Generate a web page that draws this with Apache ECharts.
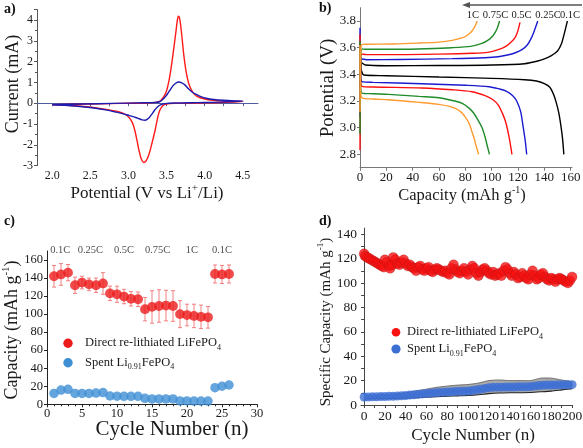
<!DOCTYPE html>
<html><head><meta charset="utf-8">
<script src="https://cdn.jsdelivr.net/npm/echarts@6/dist/echarts.min.js"></script>
<style>html,body{margin:0;padding:0;background:#fff}#c{width:583px;height:448px}</style>
</head><body><div id="c"></div>
<script>
// ---------- Panel a: CV loops (forward then reverse scan) ----------
const cvRed = [[2.0,-0.07],[2.3,-0.05],[2.6,-0.03],[2.9,-0.01],[3.2,0.01],[3.35,0.04],[3.42,0.12],[3.47,0.35],[3.5,0.6],[3.53,1.05],[3.56,1.7],[3.59,2.5],[3.62,3.35],[3.64,3.95],[3.655,4.18],[3.67,4.1],[3.69,3.6],[3.71,2.9],[3.73,2.2],[3.76,1.45],[3.8,0.85],[3.85,0.5],[3.9,0.33],[4.0,0.2],[4.1,0.14],[4.3,0.1],[4.5,0.08],
  [4.5,0.05],[4.2,0.03],[3.9,0.01],[3.6,-0.01],[3.5,-0.04],[3.45,-0.12],[3.41,-0.35],[3.38,-0.75],[3.35,-1.3],[3.31,-1.9],[3.27,-2.45],[3.23,-2.78],[3.2,-2.85],[3.17,-2.7],[3.14,-2.3],[3.11,-1.75],[3.08,-1.25],[3.05,-0.92],[3.01,-0.7],[2.95,-0.52],[2.88,-0.42],[2.75,-0.33],[2.6,-0.24],[2.45,-0.17],[2.25,-0.11],[2.0,-0.08]];
const cvBlue = [[2.0,-0.07],[2.4,-0.04],[2.8,-0.01],[3.2,0.02],[3.35,0.04],[3.41,0.07],[3.45,0.18],[3.5,0.38],[3.54,0.6],[3.58,0.82],[3.62,0.96],[3.66,1.02],[3.7,0.98],[3.74,0.88],[3.78,0.72],[3.83,0.55],[3.89,0.42],[3.95,0.32],[4.02,0.24],[4.12,0.18],[4.24,0.14],[4.4,0.11],[4.5,0.1],
  [4.5,0.08],[4.2,0.05],[3.9,0.03],[3.6,0.01],[3.48,-0.02],[3.42,-0.08],[3.38,-0.18],[3.34,-0.35],[3.3,-0.56],[3.26,-0.74],[3.22,-0.82],[3.18,-0.8],[3.12,-0.72],[3.05,-0.63],[3.0,-0.58],[2.92,-0.5],[2.84,-0.43],[2.7,-0.32],[2.57,-0.24],[2.4,-0.17],[2.2,-0.11],[2.0,-0.08]];
const aXLabels = [2.0,2.5,3.0,3.5,4.0,4.5];
const aXTicks = [2.0,2.25,2.5,2.75,3.0,3.25,3.5,3.75,4.0,4.25,4.5];

// ---------- Panel b: charge / discharge curves ----------
const bChg01  = [[0,3.3],[0.5,3.44],[1.5,3.485],[4,3.47],[20,3.465],[60,3.466],[100,3.47],[125,3.48],[135,3.5],[141,3.52],[146,3.545],[150,3.575],[153,3.63],[155,3.7],[156.5,3.76],[157.5,3.8]];
const bDis01  = [[0,3.47],[1,3.43],[3,3.395],[20,3.39],[60,3.38],[100,3.37],[125,3.36],[134,3.35],[140,3.33],[144,3.305],[147,3.25],[149,3.19],[151,3.11],[152.5,3.02],[153.8,2.92],[154.8,2.8]];
const bChg025 = [[0,3.08],[0.5,3.45],[1.5,3.515],[5,3.51],[30,3.512],[70,3.518],[95,3.525],[105,3.532],[112,3.545],[118,3.562],[123,3.585],[127,3.62],[130,3.67],[132.5,3.73],[135,3.8]];
const bDis025 = [[0,3.75],[0.4,3.4],[1.5,3.345],[10,3.34],[47,3.33],[80,3.318],[98,3.307],[106,3.29],[111,3.275],[116,3.24],[119,3.2],[122,3.12],[124,3.0],[125.5,2.9],[126.6,2.8]];
const bChg05  = [[0,2.83],[0.5,3.45],[1.5,3.552],[5,3.548],[30,3.548],[60,3.552],[85,3.558],[97,3.565],[105,3.585],[111,3.612],[115,3.645],[118,3.68],[120,3.73],[121.5,3.79]];
const bDis05  = [[0,3.7],[0.4,3.38],[1.5,3.31],[10,3.305],[47,3.298],[70,3.285],[85,3.27],[95,3.24],[101,3.21],[105,3.17],[108.5,3.1],[111,3.03],[113.4,2.92],[115.4,2.8]];
const bChg075 = [[0,2.95],[0.5,3.45],[1.5,3.59],[5,3.588],[30,3.588],[50,3.592],[70,3.6],[85,3.612],[92,3.63],[97,3.655],[101,3.69],[104,3.74],[106,3.8]];
const bDis075 = [[0,3.65],[0.4,3.33],[1.5,3.26],[10,3.255],[21.6,3.25],[45,3.235],[60,3.225],[72,3.2],[78,3.18],[83,3.145],[86.3,3.11],[90,3.05],[92.7,3.0],[95,2.93],[96.5,2.87],[98.3,2.8]];
const bChg1   = [[0,3.12],[0.5,3.5],[1.5,3.625],[5,3.626],[25,3.628],[45,3.635],[60,3.642],[70,3.655],[78,3.675],[83,3.705],[86.5,3.745],[89,3.8]];
const bDis1   = [[0,3.62],[0.4,3.3],[1.5,3.225],[10,3.215],[21.6,3.21],[45,3.19],[59.7,3.175],[68,3.16],[72.4,3.145],[77,3.115],[80,3.08],[83,3.03],[85,2.97],[87,2.91],[88,2.87],[90.1,2.8]];
const bRates = ['1C','0.75C','0.5C','0.25C','0.1C'];
const bYLabels = [2.8,3.0,3.2,3.4,3.6,3.8];

// ---------- Panel c: rate capability ----------
const cCycles = [1,2,3,4,5,6,7,8,9,10,11,12,13,14,15,16,17,18,19,20,21,22,23,24,25,26];
const cRed  = [142,144,146,132,135,133,132,134,123,122,119.5,117,116.5,105.5,108,109,109.5,109,100,99,98,97,96.5,144.5,144,144.5];
const cErr  = [12,12,9,9,7,7,8,12,8,9,8,8,8,13,18,18,17,17,15,12,13,13,12,10,10,10];
const cBlue = [12,15.8,16.6,12,12,12,12.5,13,9.2,9,8.8,8.8,8.8,6.6,5.9,5.9,5.9,5.9,3.7,3.7,3.6,3.6,3.6,18.4,20,21.4];
const cDividers = [3.5,8.5,13.5,18.5,23.5];
const cRateLabels = ['0.1C','0.25C','0.5C','0.75C','1C','0.1C'];
const cRateCenters = [1.9,6.2,11,15.8,20.7,25];

// ---------- Panel d: long cycling ----------
const dRed = [[0,124],[1,122],[3,121],[5,120],[7,119],[9,118],[11,117],[13,116],[15,115],[17,114],[19,113],[20,119],[22,117],[24,114],[25,112],[27,115],[28,121],[30,119],[32,116],[34,115],[36,117],[38,119],[40,116],[42,114],[44,115],[46,113],[48,112],[50,110],[52,113],[54,114],[56,111],[58,110],[60,112],[62,113],[64,110],[66,109],[68,111],[70,112],[72,111],[74,110],[76,109],[78,110],[80,108],[82,107],[84,112],[86,115],[88,111],[90,109],[92,108],[94,110],[96,112],[98,109],[100,107],[102,111],[104,114],[106,112],[108,108],[110,106],[112,109],[114,111],[116,112],[118,110],[120,108],[122,107],[124,109],[126,106],[128,107],[130,108],[132,106],[134,110],[136,113],[138,111],[140,108],[142,106],[144,109],[146,107],[148,104],[150,105],[152,108],[154,106],[156,104],[158,103],[160,107],[162,110],[164,106],[166,103],[168,104],[170,107],[172,108],[174,105],[176,103],[178,102],[180,104],[182,103],[184,101],[186,103],[188,104],[190,103],[192,102],[194,101],[196,100],[198,102],[200,105]];
const dBlue = [[0,6.6],[4,6.6],[8,6.7],[12,6.8],[16,6.9],[20,7.0],[24,7.1],[28,7.2],[32,7.4],[36,7.6],[40,7.8],[44,8.1],[48,8.4],[52,8.8],[56,9.1],[60,9.4],[64,9.7],[68,10.0],[72,10.2],[76,10.5],[80,10.7],[84,10.9],[88,11.0],[92,11.2],[96,11.3],[100,11.5],[104,11.8],[108,12.4],[112,13.0],[116,13.6],[120,14.2],[124,14.5],[128,14.6],[132,14.6],[136,14.7],[140,14.8],[144,14.8],[148,14.9],[152,15.0],[156,15.0],[160,15.1],[164,15.6],[168,16.0],[172,16.2],[176,16.3],[180,16.3],[184,16.4],[188,16.5],[192,16.5],[196,16.6],[200,16.7]];
const dBandCyc = [0,10,20,30,40,50,60,70,80,90,100,110,120,130,140,150,160,170,180,190,200];
const dBandLo  = [4.9,5.1,5.2,5.4,5.6,5.9,6.3,6.8,7.2,7.5,7.8,8.4,9.3,9.8,10.0,10.1,10.3,10.8,11.4,12.4,13.4];
const dBandHi  = [7.8,8.1,8.6,9.2,10.0,11.5,13.0,14.5,15.5,16.3,16.8,18.0,20.0,20.5,20.0,20.0,20.0,22.0,22.0,20.5,19.0];

// ---------- build ----------
const SERIF = '"Liberation Serif", "Times New Roman", serif';
const TXT = '#1a1a1a';
function lab(size, margin){ return {fontFamily:SERIF, fontSize:size, color:TXT, margin:margin}; }
function range(a,b,s){const r=[];for(let v=a;v<=b+1e-9;v+=s)r.push(+v.toFixed(4));return r;}

const chart = echarts.init(document.getElementById('c'), null, {renderer:'canvas'});

const grids = [
  {left:37, top:9.6, width:221, height:156, outerBoundsMode:'none'},
  {left:360, top:7.7, width:212, height:160, outerBoundsMode:'none'},
  {left:47, top:251, width:210, height:153.3, outerBoundsMode:'none'},
  {left:361, top:228.1, width:211.6, height:176.9, outerBoundsMode:'none'}
];

const axLine = c => ({show:true, lineStyle:{color:c, width:1}});
const xAxes = [
  {gridIndex:0, type:'value', min:1.8, max:4.7, axisLine:axLine('#4f5c9e'),
   axisTick:{customValues:aXTicks, length:3, lineStyle:{color:'#4f5c9e'}},
   axisLabel:Object.assign(lab(12,4),{customValues:aXLabels, formatter:v=>v.toFixed(1)}), splitLine:{show:false}},
  {gridIndex:1, type:'value', min:0, max:161, axisLine:axLine('#777'),
   axisTick:{customValues:range(0,160,20), length:3, lineStyle:{color:'#777'}},
   axisLabel:Object.assign(lab(13,3),{customValues:range(0,160,20)}), splitLine:{show:false}},
  {gridIndex:2, type:'value', min:0, max:30, interval:5, axisLine:axLine('#222'),
   axisTick:{length:3, lineStyle:{color:'#222'}}, minorTick:{show:true, splitNumber:5, length:2, lineStyle:{color:'#222'}},
   axisLabel:lab(12.5,3), splitLine:{show:false}},
  {gridIndex:3, type:'value', min:-3, max:200.5, axisLine:axLine('#444'),
   axisTick:{customValues:range(0,200,10), length:3, lineStyle:{color:'#444'}},
   axisLabel:Object.assign(lab(13.5,4),{customValues:range(0,200,20)}), splitLine:{show:false}}
];
const yAxes = [
  {gridIndex:0, type:'value', min:-3, max:4.5, interval:1, axisLine:axLine('#555'),
   axisTick:{length:3, lineStyle:{color:'#555'}}, minorTick:{show:true, splitNumber:2, length:2, lineStyle:{color:'#555'}},
   axisLabel:Object.assign(lab(12,4),{formatter:v=>Number.isInteger(v)?String(v):''}), splitLine:{show:false}},
  {gridIndex:1, type:'value', min:2.7, max:3.9, axisLine:axLine('#777'),
   axisTick:{customValues:bYLabels, length:3, lineStyle:{color:'#777'}},
   axisLabel:Object.assign(lab(13,4),{customValues:bYLabels, formatter:v=>v.toFixed(1)}), splitLine:{show:false}},
  {gridIndex:2, type:'value', min:0, max:170, axisLine:axLine('#222'),
   axisTick:{customValues:range(0,160,20), length:3, lineStyle:{color:'#222'}},
   axisLabel:Object.assign(lab(12.5,4),{customValues:range(0,160,20)}), splitLine:{show:false}},
  {gridIndex:3, type:'value', min:0, max:145, axisLine:axLine('#444'),
   axisTick:{customValues:range(0,140,10), length:3, lineStyle:{color:'#444'}},
   axisLabel:Object.assign(lab(13.5,4),{customValues:range(0,140,20)}), splitLine:{show:false}}
];

const series = [];
// a
series.push({type:'line', xAxisIndex:0, yAxisIndex:0, data:cvRed, showSymbol:false, smooth:0.3, lineStyle:{color:'#ff1a1a', width:1.4}, z:3});
series.push({type:'line', xAxisIndex:0, yAxisIndex:0, data:cvBlue, showSymbol:false, smooth:0.3, lineStyle:{color:'#1c1cb0', width:1.4}, z:4});
// b
const bSets = [[bChg01,bDis01,'#000000'],[bChg025,bDis025,'#1a1ad0'],[bChg05,bDis05,'#ff1010'],[bChg075,bDis075,'#1e8c2a'],[bChg1,bDis1,'#ff9a2e']];
bSets.forEach(s=>{
  [s[0],s[1]].forEach(d=>series.push({type:'line', xAxisIndex:1, yAxisIndex:1, data:d, showSymbol:false, smooth:0.3, lineStyle:{color:s[2], width:1.4}}));
});
// c
series.push({type:'custom', xAxisIndex:2, yAxisIndex:2, z:1,
  data:cCycles.map((c,i)=>[c, cRed[i]-cErr[i], cRed[i]+cErr[i]]),
  encode:{x:0, y:[1,2]},
  renderItem:(p,api)=>{
    const lo=api.coord([api.value(0),api.value(1)]), hi=api.coord([api.value(0),api.value(2)]);
    const st={stroke:'#f27272', lineWidth:0.9}, w=2;
    return {type:'group', children:[
      {type:'line', shape:{x1:lo[0],y1:lo[1],x2:hi[0],y2:hi[1]}, style:st},
      {type:'line', shape:{x1:lo[0]-w,y1:lo[1],x2:lo[0]+w,y2:lo[1]}, style:st},
      {type:'line', shape:{x1:hi[0]-w,y1:hi[1],x2:hi[0]+w,y2:hi[1]}, style:st}]};
  }});
series.push({type:'scatter', name:'Direct re-lithiated LiFePO4', xAxisIndex:2, yAxisIndex:2, symbolSize:9.8,
  data:cCycles.map((c,i)=>[c,cRed[i]]), itemStyle:{color:'#ec1c1c'}, z:3,
  markLine:{silent:true, symbol:'none', label:{show:false}, lineStyle:{color:'#b4b8c6', type:[1.5,1.5], width:0.9},
    data:cDividers.map(x=>[{coord:[x,0]},{coord:[x,174]}])}});
series.push({type:'scatter', name:'Spent Li0.91FePO4', xAxisIndex:2, yAxisIndex:2, symbolSize:9.5,
  data:cCycles.map((c,i)=>[c,cBlue[i]]), itemStyle:{color:'#3e8ed4'}, z:3});
series.push({type:'scatter', xAxisIndex:2, yAxisIndex:2, symbolSize:0, clip:false, silent:true,
  data:cRateCenters.map((c,i)=>({value:[c,171], name:cRateLabels[i]})),
  label:{show:true, position:'inside', formatter:p=>p.name, fontFamily:SERIF, fontSize:10.5, color:TXT}});
// d : error band drawn as polygon through the axis scales
series.push({type:'custom', xAxisIndex:3, yAxisIndex:3, z:1, data:[[0]], silent:true,
  renderItem:(p,api)=>{
    const up = dBandCyc.map((c,i)=>api.coord([c,dBandHi[i]]));
    const lo = dBandCyc.map((c,i)=>api.coord([c,dBandLo[i]]));
    const poly = up.concat(lo.slice().reverse());
    return {type:'group', children:[
      {type:'polygon', shape:{points:poly, smooth:0.25}, style:{fill:'rgba(140,140,140,0.75)'}},
      {type:'polyline', shape:{points:up, smooth:0.25}, style:{stroke:'#666', lineWidth:0.9, fill:null}},
      {type:'polyline', shape:{points:lo, smooth:0.25}, style:{stroke:'#222', lineWidth:1.1, fill:null}}]};
  }});
series.push({type:'scatter', xAxisIndex:3, yAxisIndex:3, data:dBlue, symbolSize:9, itemStyle:{color:'#3c6fd4'}, z:3});
series.push({type:'scatter', xAxisIndex:3, yAxisIndex:3, data:dRed, symbolSize:10,
  itemStyle:{color:'#f81212', borderColor:'rgba(120,20,20,0.45)', borderWidth:0.6}, z:4});

function t(x,y,text,rich,opts){
  return Object.assign({type:'text', x:x, y:y, z:10, style:Object.assign({text:text, rich:rich, fill:TXT, fontFamily:SERIF, fontSize:17, align:'center', verticalAlign:'middle'}, opts&&opts.style||{})}, opts&&opts.el||{});
}
function richSet(main){
  return {m:{fontFamily:SERIF, fontSize:main, lineHeight:main+5, fill:TXT},
          sup:{fontFamily:SERIF, fontSize:Math.round(main*0.62), fill:TXT, verticalAlign:'top'},
          sub:{fontFamily:SERIF, fontSize:Math.round(main*0.62), fill:TXT, verticalAlign:'bottom'}};
}
const R90 = Math.PI/2;
const letter = (x,y,s)=>({type:'text', x:x, y:y, style:{text:s, fontFamily:SERIF, fontWeight:'bold', fontSize:14, fill:'#111'}});
const graphic = [
  letter(4,2,'a)'), letter(319,1,'b)'), letter(4,214,'c)'), letter(319,214,'d)'),
  // axis titles
  t(147,194,'{m|Potential (V vs Li}{sup|+}{m|/Li)}', richSet(17)),
  t(13,84,'{m|Current (mA)}', richSet(18), {el:{rotation:R90}}),
  t(328,88,'{m|Potential (V)}', richSet(19), {el:{rotation:R90}}),
  t(462,196,'{m|Capacity (mAh g}{sup|-1}{m|)}', richSet(16.5)),
  t(12,330,'{m|Capacity (mAh g}{sup|-1}{m|)}', richSet(18), {el:{rotation:R90}}),
  t(172,429,'{m|Cycle Number (n)}', richSet(21)),
  t(326,322,'{m|Specific Capacity (mAh g}{sup|-1}{m|)}', richSet(15), {el:{rotation:R90}}),
  t(473,436,'{m|Cycle Number (n)}', richSet(17)),
  // panel b arrow
  {type:'line', shape:{x1:582,y1:5,x2:468,y2:5}, style:{stroke:'#555', lineWidth:1.3}},
  {type:'polygon', shape:{points:[[462,5],[470,2],[470,8]]}, style:{fill:'#555'}},
  // legends c
  {type:'circle', shape:{cx:68, cy:343.3, r:4.7}, style:{fill:'#ec1c1c'}},
  {type:'circle', shape:{cx:68, cy:362.7, r:4.7}, style:{fill:'#3e8ed4'}},
  t(85,343,'{m|Direct re-lithiated LiFePO}{sub|4}', richSet(12.5), {style:{align:'left'}}),
  t(85,362.5,'{m|Spent Li}{sub|0.91}{m|FePO}{sub|4}', richSet(12.5), {style:{align:'left'}}),
  // legends d
  {type:'circle', shape:{cx:396, cy:332.3, r:4.3}, style:{fill:'#f81212'}},
  {type:'circle', shape:{cx:396, cy:349, r:4.6}, style:{fill:'#3c6fd4'}},
  t(407,332,'{m|Direct re-lithiated LiFePO}{sub|4}', richSet(12.5), {style:{align:'left'}}),
  t(407,349,'{m|Spent Li}{sub|0.91}{m|FePO}{sub|4}', richSet(12.5), {style:{align:'left'}})
];
const bRateX = [473,495.5,521.5,548,570];
bRates.forEach((r,i)=>graphic.push({type:'text', x:bRateX[i], y:15, style:{text:r, fontFamily:SERIF, fontSize:10.5, fill:TXT, align:'center', verticalAlign:'middle'}}));

chart.setOption({animation:false, backgroundColor:'#fff', grid:grids, xAxis:xAxes, yAxis:yAxes, series:series, graphic:graphic});
</script></body></html>
